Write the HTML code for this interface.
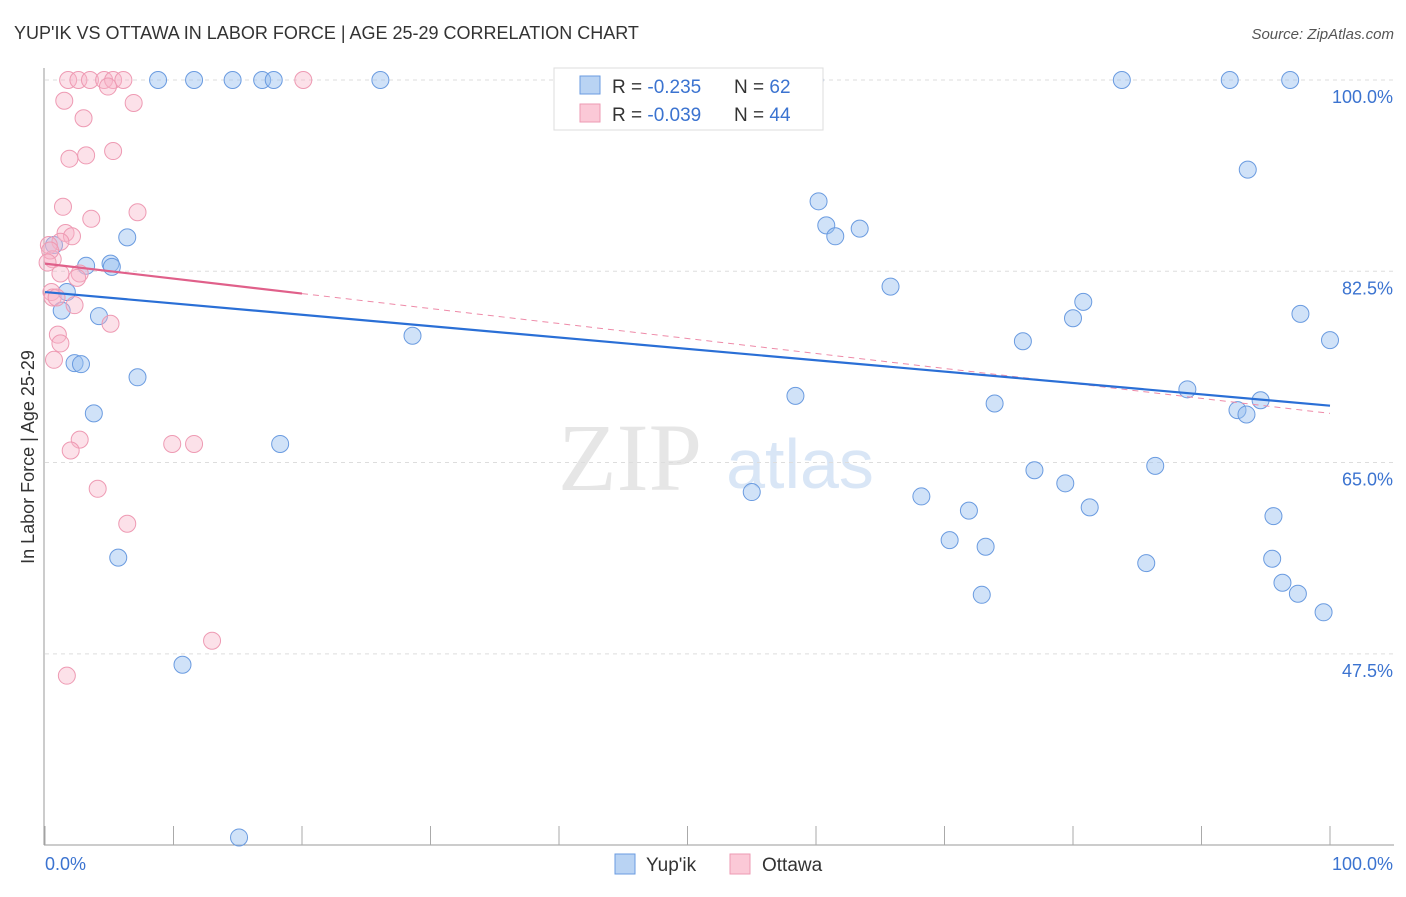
<!DOCTYPE html>
<html><head><meta charset="utf-8"><style>
body{margin:0;background:#fff;font-family:"Liberation Sans",sans-serif}
</style></head><body>
<svg id="c" width="1406" height="892" xmlns="http://www.w3.org/2000/svg" style="font-family:'Liberation Sans',sans-serif">
<text x="14" y="39" font-size="18" fill="#333">YUP'IK VS OTTAWA IN LABOR FORCE | AGE 25-29 CORRELATION CHART</text>
<text x="1394" y="39" font-size="15" fill="#555" font-style="italic" text-anchor="end">Source: ZipAtlas.com</text>
<text x="630" y="490" font-size="96" fill="#e6e6e6" font-family="Liberation Serif" text-anchor="middle">ZIP</text>
<text x="800" y="488" font-size="70" fill="#d9e6f6" text-anchor="middle">atlas</text>
<text transform="translate(34,457) rotate(-90)" font-size="18" fill="#333" text-anchor="middle">In Labor Force | Age 25-29</text>
<g id="grid"></g><g id="axes"></g><g id="marks"></g>
<g>
<rect x="554" y="68" width="269" height="62" fill="#fff" stroke="#ddd"/>
<rect x="580" y="76" width="20" height="18" fill="#b9d3f3" stroke="#6a9be0"/>
<rect x="580" y="104" width="20" height="18" fill="#fbc9d7" stroke="#ee9ab3"/>
<text x="612" y="93" font-size="19" fill="#333">R = <tspan fill="#3b73d0">-0.235</tspan><tspan x="734">N = </tspan><tspan fill="#3b73d0">62</tspan></text>
<text x="612" y="121" font-size="19" fill="#333">R = <tspan fill="#3b73d0">-0.039</tspan><tspan x="734">N = </tspan><tspan fill="#3b73d0">44</tspan></text>
</g>
<g>
<rect x="615" y="854" width="20" height="20" fill="#b9d3f3" stroke="#6a9be0"/>
<text x="646" y="871" font-size="19" fill="#333">Yup'ik</text>
<rect x="730" y="854" width="20" height="20" fill="#fbc9d7" stroke="#ee9ab3"/>
<text x="762" y="871" font-size="19" fill="#333">Ottawa</text>
</g>
</svg>
<script>
const yTicks=[100,82.5,65,47.5];
const yTickLabels=["100.0%","82.5%","65.0%","47.5%"];
const yupikX=[8.8,11.6,14.6,16.9,17.8,26.1,59.9,83.8,92.2,96.9,93.6,60.2,60.8,61.5,63.4,6.4,0.7,3.2,5.1,5.2,1.7,1.3,4.2,28.6,65.8,80.8,80.0,76.1,97.7,100,2.3,2.8,7.2,3.8,58.4,73.9,88.9,92.8,93.5,94.6,18.3,77.0,79.4,86.4,55.0,68.2,71.9,81.3,95.6,70.4,73.2,85.7,95.5,5.7,96.3,97.5,72.9,99.5,10.7,15.1];
const yupikY=[100,100,100,100,100,100,100,100,100,100,91.8,88.9,86.7,85.7,86.4,85.6,84.9,83.0,83.2,82.9,80.6,78.9,78.4,76.6,81.1,79.7,78.2,76.1,78.6,76.2,74.1,74.0,72.8,69.5,71.1,70.4,71.7,69.8,69.4,70.7,66.7,64.3,63.1,64.7,62.3,61.9,60.6,60.9,60.1,57.9,57.3,55.8,56.2,56.3,54.0,53.0,52.9,51.3,46.5,30.7];
const ottawaX=[1.8,2.6,3.5,4.6,5.3,6.1,20.1,4.9,1.5,6.9,3.0,1.9,3.2,5.3,1.4,7.2,3.6,1.6,2.1,1.2,0.3,0.6,1.2,2.7,2.5,0.5,0.6,0.9,2.3,5.1,1.0,1.2,0.7,2.7,2.0,9.9,11.6,4.1,6.4,13.0,1.7,0.4,0.2];
const ottawaY=[100,100,100,100,100,100,100,99.4,98.1,97.9,96.5,92.8,93.1,93.5,88.4,87.9,87.3,86.0,85.7,85.2,84.9,83.6,82.3,82.3,81.9,80.6,80.1,80.1,79.4,77.7,76.7,75.9,74.4,67.1,66.1,66.7,66.7,62.6,59.4,48.7,45.5,84.4,83.3];
const yupikTrend=[80.6,70.2];
const ottawaTrend=[83.2,69.5];
const X0=45,X1=1330,Y0=80,PXY=10.93;
const xs=v=>X0+(X1-X0)*v/100, ys=v=>Y0+(100-v)*PXY;
const NS="http://www.w3.org/2000/svg";
function mk(tag,attrs,parent){const e=document.createElementNS(NS,tag);for(const k in attrs)e.setAttribute(k,attrs[k]);document.getElementById(parent).appendChild(e);return e;}
yTicks.forEach((t,i)=>{
 const l=mk('line',{x1:45,x2:1394,y1:ys(t),y2:ys(t),stroke:'#ddd','stroke-dasharray':'4,4'},'grid');
 
 
 const tx=mk('text',{x:1393,y:ys(t)+23,'font-size':18,fill:'#3b73d0','text-anchor':'end'},'grid');
 tx.textContent=yTickLabels[i];
 
 
});
let a=mk('line',{x1:44,x2:44,y1:68,y2:845,stroke:'#999'},'axes');


a=mk('line',{x1:44,x2:1394,y1:845,y2:845,stroke:'#999'},'axes');


for(let i=0;i<=10;i++){const t=mk('line',{x1:xs(i*10),x2:xs(i*10),y1:826,y2:845,stroke:'#aaa'},'axes');
 
 }
let t0=mk('text',{x:45,y:870,'font-size':18,fill:'#3b73d0'},'axes');t0.textContent='0.0%';


t0=mk('text',{x:1393,y:870,'font-size':18,fill:'#3b73d0','text-anchor':'end'},'axes');t0.textContent='100.0%';


yupikX.forEach((v,i)=>{const c=mk('circle',{cx:xs(v),cy:ys(yupikY[i]),r:8.5,fill:'rgba(150,190,240,0.45)',stroke:'#6a9be0','stroke-width':1},'marks');
 
 });
ottawaX.forEach((v,i)=>{const c=mk('circle',{cx:xs(v),cy:ys(ottawaY[i]),r:8.5,fill:'rgba(248,180,200,0.4)',stroke:'#ee9ab3','stroke-width':1},'marks');
 
 });
const oy=x=>ottawaTrend[0]+(ottawaTrend[1]-ottawaTrend[0])*x/100;
let L=mk('line',{x1:xs(20),y1:ys(oy(20)),x2:xs(100),y2:ys(oy(100)),stroke:'#ee8aa8','stroke-dasharray':'6,5','stroke-width':1},'marks');


L=mk('line',{x1:xs(0),y1:ys(yupikTrend[0]),x2:xs(100),y2:ys(yupikTrend[1]),stroke:'#2a6fd6','stroke-width':2.2},'marks');


L=mk('line',{x1:xs(0),y1:ys(oy(0)),x2:xs(20),y2:ys(oy(20)),stroke:'#e0608a','stroke-width':2.2},'marks');


</script>
</body></html>
